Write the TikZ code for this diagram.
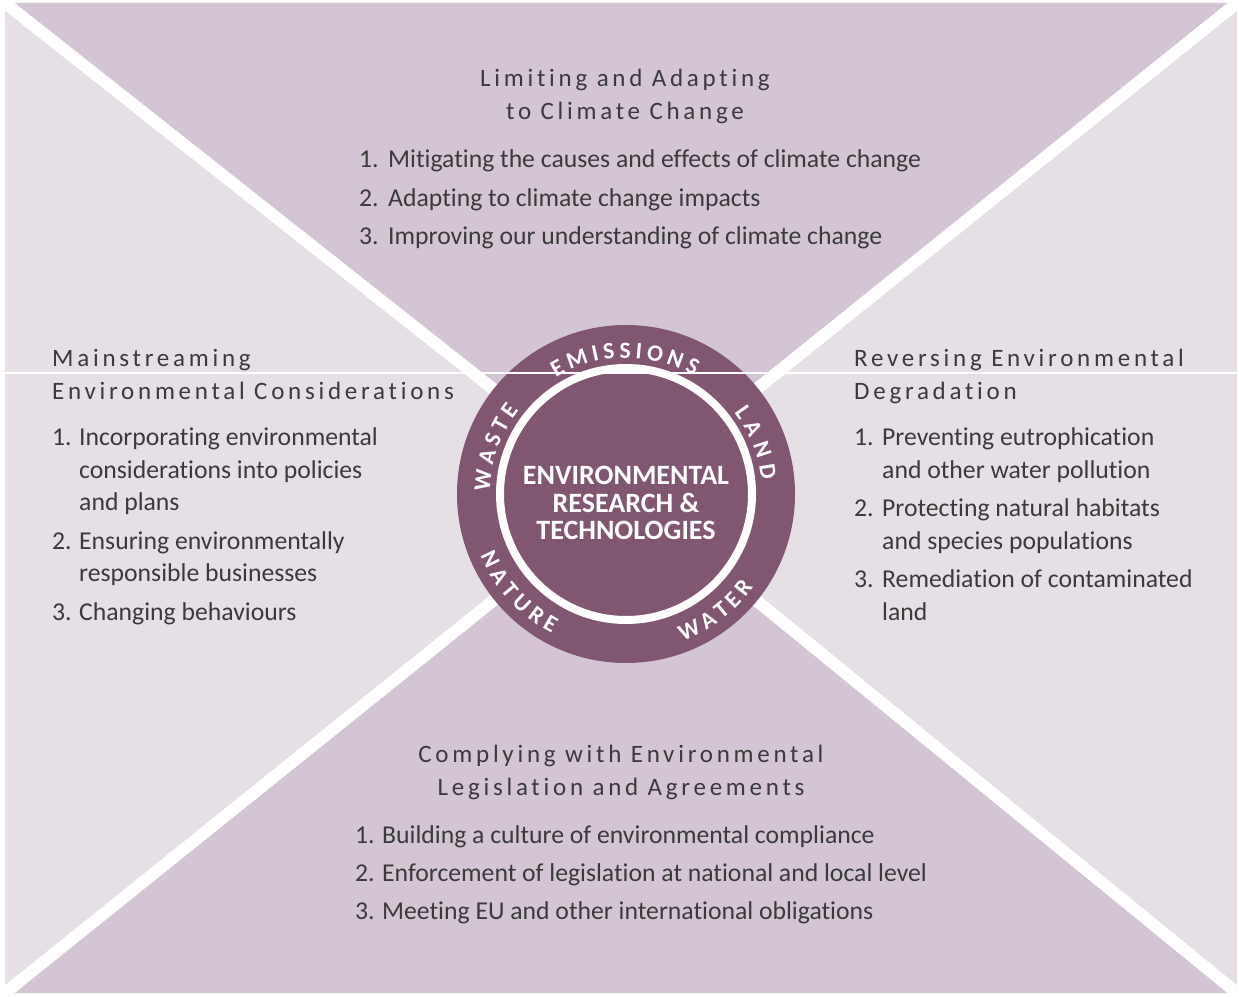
\documentclass[tikz,border=0pt]{standalone}
\usepackage{fontspec}
\setmainfont{Carlito}[Ligatures=NoCommon]
\newfontfamily\headfont{Carlito}[LetterSpace=15,Ligatures=NoCommon]
\usetikzlibrary{decorations.text,positioning}

\definecolor{quadDark}{RGB}{211,197,211}
\definecolor{quadLight}{RGB}{230,223,230}
\definecolor{hubPurple}{RGB}{128,86,112}
\definecolor{textGray}{RGB}{58,58,58}

\newcommand{\ringtype}{\bfseries\fontsize{23.5}{26}\selectfont}

\begin{document}
\begin{tikzpicture}[x=1pt,y=1pt,
  head/.style={font=\headfont\fontsize{25}{32.5}\selectfont,text=textGray,inner sep=0pt},
  items/.style={font=\fontsize{25.7}{32.5}\selectfont,text=textGray,inner sep=0pt,anchor=base west},
  divider/.style={white,line width=12pt},
  ringtext/.style={decorate,decoration={text along path,text color=white,
    text align=fit to path,text={|\ringtype|#1}}}]

\useasboundingbox (0,0) rectangle (1239,996);

\coordinate (tl) at (5,993);
\coordinate (tr) at (1237,993);
\coordinate (bl) at (5,3);
\coordinate (br) at (1237,3);
\coordinate (c)  at (626,502);

% four quarters
\fill[quadDark]  (tl) -- (tr) -- (c) -- cycle;
\fill[quadDark]  (bl) -- (br) -- (c) -- cycle;
\fill[quadLight] (tl) -- (bl) -- (c) -- cycle;
\fill[quadLight] (tr) -- (br) -- (c) -- cycle;

\begin{scope}
\clip (tl) rectangle (br);
\draw[divider] (tl) -- (c);
\draw[divider] (tr) -- (c);
\draw[divider] (bl) -- (c);
\draw[divider] (br) -- (c);
\end{scope}

% hub
\node[circle,fill=hubPurple,minimum size=338pt,inner sep=0pt] (hub) at (c) {};
\draw[white,line width=8pt] (hub.center) circle[radius=126];
\node[text=white,inner sep=0pt,anchor=base,font=\bfseries\fontsize{28}{27}\selectfont] (core) at (626,511)
  {\begin{tabular}[t]{@{}c@{}}ENVIRONMENTAL\\RESEARCH \&\\TECHNOLOGIES\end{tabular}};

\path[ringtext=EMISSIONS] (hub.center) ++(121:136) arc[start angle=121,end angle=60,radius=136];
\path[ringtext=LAND]      (hub.center) ++(37:136)  arc[start angle=37,end angle=6,radius=136];
\path[ringtext=WASTE]     (hub.center) ++(179:136) arc[start angle=179,end angle=142,radius=136];
\path[ringtext=NATURE]    (hub.center) ++(203:158) arc[start angle=203,end angle=242,radius=158];
\path[ringtext=WATER]     (hub.center) ++(291:158) arc[start angle=291,end angle=324,radius=158];

% top
\node[head,anchor=base] (climateHead) at (625,909)
  {\begin{tabular}[t]{@{}c@{}}Limiting and Adapting\\to Climate Change\end{tabular}};
\node[items] (climateList) at (359,828)
  {\begin{tabular}[t]{@{}p{29pt}@{}l@{}}
  1. & Mitigating the causes and effects of climate change\\[6pt]
  2. & Adapting to climate change impacts\\[6pt]
  3. & Improving our understanding of climate change
  \end{tabular}};

% left
\node[head,anchor=base west] (mainHead) at (52,629)
  {\begin{tabular}[t]{@{}l@{}}Mainstreaming\\Environmental Considerations\end{tabular}};
\node[items] (mainList) at (52,550)
  {\begin{tabular}[t]{@{}p{27pt}@{}l@{}}
  1. & Incorporating environmental\\
     & considerations into policies\\
     & and plans\\[6pt]
  2. & Ensuring environmentally\\
     & responsible businesses\\[6pt]
  3. & Changing behaviours
  \end{tabular}};

% right
\node[head,anchor=base west] (revHead) at (854,629)
  {\begin{tabular}[t]{@{}l@{}}Reversing Environmental\\Degradation\end{tabular}};
\node[items] (revList) at (854,550)
  {\begin{tabular}[t]{@{}p{28pt}@{}l@{}}
  1. & Preventing eutrophication\\
     & and other water pollution\\[6pt]
  2. & Protecting natural habitats\\
     & and species populations\\[6pt]
  3. & Remediation of contaminated\\
     & land
  \end{tabular}};

% bottom
\node[head,anchor=base] (legalHead) at (621,233)
  {\begin{tabular}[t]{@{}c@{}}Complying with Environmental\\Legislation and Agreements\end{tabular}};
\node[items] (legalList) at (355,153)
  {\begin{tabular}[t]{@{}p{27pt}@{}l@{}}
  1. & Building a culture of environmental compliance\\[6pt]
  2. & Enforcement of legislation at national and local level\\[6pt]
  3. & Meeting EU and other international obligations
  \end{tabular}};

% thin seam across the sheet
\coordinate (seamL) at (5,623);
\coordinate (seamR) at (1237,623);
\draw[white,line width=1.2pt] (seamL) -- (seamR);

\end{tikzpicture}
\end{document}
